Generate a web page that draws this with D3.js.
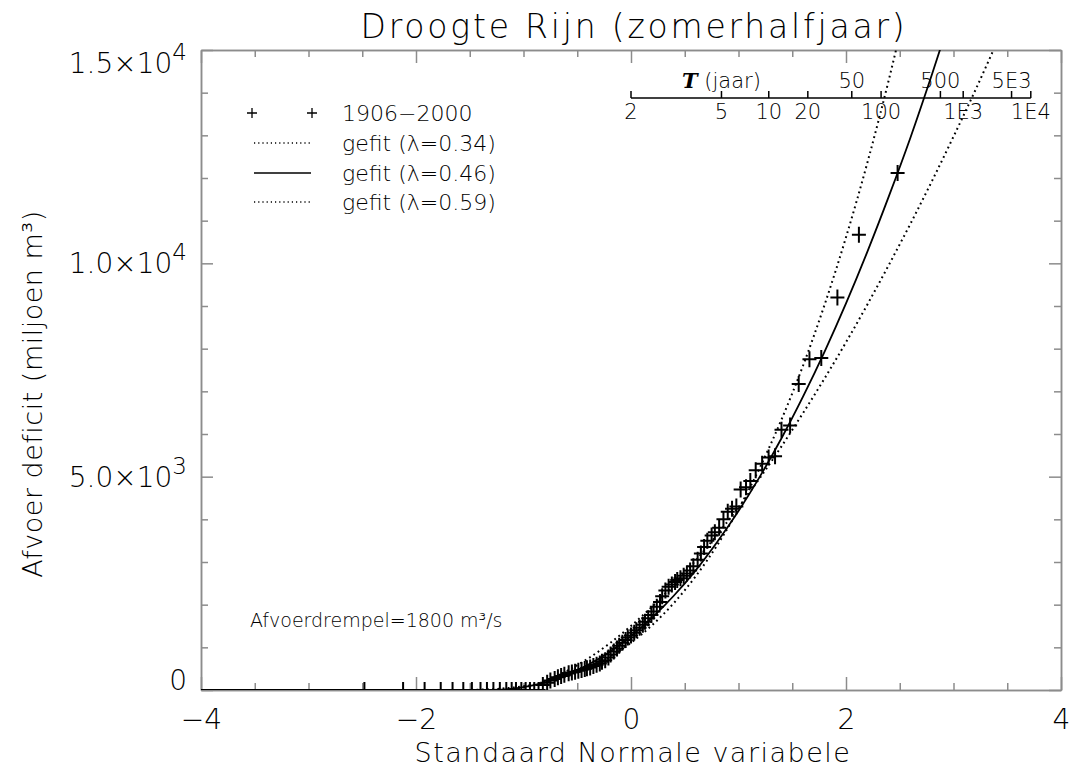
<!DOCTYPE html>
<meta charset="utf-8">
<style>
    body { margin: 0; background: #fff; }
    svg { font-family: "DejaVu Sans", sans-serif; font-weight: 200; }
    .frame line, .frame path { stroke: #8c8c8c; stroke-width: 1.5; }
    .tick text { fill: #000; }
</style>
<body>
<script src="https://d3js.org/d3.v7.min.js"></script>
<script>
    var width = 1072,
        height = 774;

    // observed deficits 1906-2000, sorted, with their standard normal plotting position
    var obsZ = [-2.48,-2.12,-1.92,-1.77,-1.66,-1.56,-1.48,-1.40,-1.34,-1.28,-1.22,-1.16,-1.11,-1.07,-1.02,-0.98,
        -0.94,-0.90,-0.86,-0.82,-0.78,-0.75,-0.71,-0.68,-0.65,-0.62,-0.58,-0.55,-0.52,-0.49,-0.46,-0.43,
        -0.41,-0.38,-0.35,-0.32,-0.29,-0.27,-0.24,-0.21,-0.19,-0.16,-0.13,-0.11,-0.08,-0.05,-0.03,0,
        0.03,0.05,0.08,0.11,0.13,0.16,0.19,0.21,0.24,0.27,0.29,0.32,0.35,0.38,0.41,0.43,0.46,0.49,
        0.52,0.55,0.58,0.62,0.65,0.68,0.71,0.75,0.78,0.82,0.86,0.90,0.94,0.98,1.02,1.07,1.11,1.16,
        1.22,1.28,1.34,1.40,1.48,1.56,1.66,1.77,1.92,2.12,2.48];
    var obsDeficit = [0,0,0,0,0,0,0,0,0,0,0,0,0,0,0,0,0,0,0,
        120,170,220,260,300,330,360,390,410,430,450,470,490,510,530,560,590,620,660,700,760,830,900,
        970,1040,1110,1170,1230,1280,1340,1400,1460,1530,1600,1680,1760,1840,1950,2060,2200,2330,2420,
        2470,2530,2580,2620,2680,2730,2800,2900,3050,3200,3350,3500,3620,3700,3800,4000,4180,4250,4300,
        4700,4750,4900,5150,5300,5450,5480,6100,6200,7170,7750,7780,9200,10670,12120];

    var fitZ = [-4,-1.8,-1.6,-1.4,-1.2,-1.0,-0.8,-0.6,-0.4,-0.2,0,0.2,0.4,0.6,0.8,1.0,1.2,1.4,1.6,1.8,
        2.0,2.2,2.4,2.6,2.8,3.0,3.2,3.4];
    var fit034 = [0,0,1,8,34,87,178,316,510,771,1108,1528,2042,2660,3387,4238,5220,6340,7600,9023,
        10610,12370,14320,16470,18800,21400,24200,27200];
    var fit046 = [0,0,0,0,11,69,181,354,591,892,1263,1703,2215,2798,3463,4195,5007,5900,6875,7925,
        9060,10280,11580,12950,14430,15980,17600,19300];
    var fit059 = [0,0,0,0,0,56,211,441,736,1091,1502,1963,2472,3030,3636,4283,4972,5710,6490,7300,
        8150,9040,9970,10930,11930,12970,14040,15160];

    var xTicks = [-4, -2, 0, 2, 4];
    var yTicks = [0, 5000, 10000, 15000];
    var yTickMant = ["0", "5.0\u00d710", "1.0\u00d710", "1.5\u00d710"];
    var yTickExp = ["", "3", "4", "4"];

    // return period axis (jaar)
    var tBelow = [2, 5, 10, 20, 100, 1000, 10000];
    var tBelowLabels = ["2", "5", "10", "20", "100", "1E3", "1E4"];
    var tAbove = [50, 500, 5000];
    var tAboveLabels = ["50", "500", "5E3"];

    var legendLabels = ["1906\u22122000", "gefit (\u03bb=0.34)", "gefit (\u03bb=0.46)", "gefit (\u03bb=0.59)"];

    // inverse standard normal (Acklam)
    function qnorm(p) {
        var a = [-39.69683028665376, 220.9460984245205, -275.9285104469687, 138.3577518672690, -30.66479806614716, 2.506628277459239],
            b = [-54.47609879822406, 161.5858368580409, -155.6989798598866, 66.80131188771972, -13.28068155288572],
            c = [-0.007784894002430293, -0.3223964580411365, -2.400758277161838, -2.549732539343734, 4.374664141464968, 2.938163982698783],
            d = [0.007784695709041462, 0.3224671290700398, 2.445134137142996, 3.754408661907416];
        var q, r;
        if (p < 0.02425) {
            q = Math.sqrt(-2 * Math.log(p));
            return (((((c[0]*q+c[1])*q+c[2])*q+c[3])*q+c[4])*q+c[5]) / ((((d[0]*q+d[1])*q+d[2])*q+d[3])*q+1);
        }
        if (p <= 1 - 0.02425) {
            q = p - 0.5; r = q * q;
            return (((((a[0]*r+a[1])*r+a[2])*r+a[3])*r+a[4])*r+a[5])*q / (((((b[0]*r+b[1])*r+b[2])*r+b[3])*r+b[4])*r+1);
        }
        q = Math.sqrt(-2 * Math.log(1 - p));
        return -(((((c[0]*q+c[1])*q+c[2])*q+c[3])*q+c[4])*q+c[5]) / ((((d[0]*q+d[1])*q+d[2])*q+d[3])*q+1);
    }

    var svg = d3.select('body').append('svg')
        .attr('width', width)
        .attr('height', height);

    var x = d3.scaleLinear().domain([-4, 4]).range([201, 1061]);
    var y = d3.scaleLinear().domain([0, 15000]).range([690, 50]);

    var minorX = d3.range(-4, 4.01, 0.5).filter(function (v) { return xTicks.indexOf(v) < 0; });
    var minorY = d3.range(0, 15001, 1000).filter(function (v) { return yTicks.indexOf(v) < 0; });

    var fmtX = function (d) { return d < 0 ? "\u2212" + (-d) : d; };

    // frame with mirrored ticks
    function frameAxis(axis, tf) {
        svg.append('g').attr('class', 'frame').attr('transform', tf).call(axis)
            .call(function (g) { g.selectAll('text').remove(); });
    }
    frameAxis(d3.axisBottom(x).tickValues(minorX).tickSize(-7).tickSizeOuter(0), 'translate(0,690)');
    frameAxis(d3.axisTop(x).tickValues(minorX).tickSize(-7).tickSizeOuter(0), 'translate(0,50)');
    frameAxis(d3.axisTop(x).tickValues(xTicks).tickSize(-13).tickSizeOuter(0), 'translate(0,50)');
    frameAxis(d3.axisLeft(y).tickValues(minorY).tickSize(-7).tickSizeOuter(0), 'translate(201,0)');
    frameAxis(d3.axisRight(y).tickValues(minorY).tickSize(-7).tickSizeOuter(0), 'translate(1061,0)');
    frameAxis(d3.axisRight(y).tickValues(yTicks).tickSize(-12).tickSizeOuter(0), 'translate(1061,0)');
    frameAxis(d3.axisLeft(y).tickValues(yTicks).tickSize(-12).tickSizeOuter(0), 'translate(201,0)');

    var xAxisG = svg.append('g').attr('class', 'frame').attr('transform', 'translate(0,690)')
        .call(d3.axisBottom(x).tickValues(xTicks).tickSize(-13).tickSizeOuter(0).tickPadding(19).tickFormat(fmtX));
    xAxisG.selectAll('text').attr('font-size', 28).attr('font-family', '"DejaVu Sans", sans-serif')
        .attr('font-weight', 200);

    // y labels with superscript exponents
    yTicks.forEach(function (v, i) {
        var yy = Math.max(63, Math.min(680, y(v)));
        var t = svg.append('text')
            .attr('x', 187).attr('y', yy + 10)
            .attr('text-anchor', 'end')
            .attr('font-size', 28).attr('fill', '#000')
            .text(yTickMant[i]);
        if (yTickExp[i]) {
            t.append('tspan').attr('dy', -13).attr('font-size', 23).text(yTickExp[i]);
        }
    });

    // titles
    svg.append('text').attr('x', 634).attr('y', 38).attr('text-anchor', 'middle')
        .attr('font-size', 33).attr('letter-spacing', 2.8).attr('fill', '#000')
        .text('Droogte Rijn (zomerhalfjaar)');
    svg.append('text').attr('x', 633).attr('y', 762).attr('text-anchor', 'middle')
        .attr('font-size', 27).attr('letter-spacing', 1.5).attr('fill', '#000')
        .text('Standaard Normale variabele');
    svg.append('text').attr('transform', 'translate(42,394) rotate(-90)').attr('text-anchor', 'middle')
        .attr('font-size', 27).attr('letter-spacing', 0.5).attr('fill', '#000')
        .text('Afvoer deficit (miljoen m\u00b3)');
    svg.append('text').attr('x', 250).attr('y', 627)
        .attr('font-size', 19).attr('fill', '#000')
        .text('Afvoerdrempel=1800 m\u00b3/s');

    // clip for plot area
    svg.append('clipPath').attr('id', 'plot')
        .append('rect').attr('x', 201).attr('y', 50).attr('width', 860).attr('height', 640);

    var line = d3.line()
        .x(function (d) { return x(d[0]); })
        .y(function (d) { return y(d[1]); })
        .curve(d3.curveMonotoneX);

    var plot = svg.append('g').attr('clip-path', 'url(#plot)');

    [[fit034, '1.8,3.4'], [fit059, '1.8,3.4'], [fit046, null]].forEach(function (f) {
        plot.append('path')
            .datum(d3.zip(fitZ, f[0]))
            .attr('d', line)
            .attr('fill', 'none')
            .attr('stroke', '#000')
            .attr('stroke-width', f[1] ? 2 : 1.8)
            .attr('stroke-dasharray', f[1]);
    });

    plot.selectAll('.obs')
        .data(d3.zip(obsZ, obsDeficit))
        .enter().append('path')
        .attr('class', 'obs')
        .attr('d', function (d) {
            var px = x(d[0]), py = y(d[1]);
            return 'M' + (px - 7) + ',' + py + 'H' + (px + 7) + 'M' + px + ',' + (py - 8) + 'V' + (py + 8);
        })
        .attr('stroke', '#000')
        .attr('stroke-width', 2);

    // return period axis
    var tz = function (T) { return x(qnorm(1 - 1 / T)); };
    var tAxis = svg.append('g');
    tAxis.append('line').attr('x1', tz(2)).attr('x2', tz(10000)).attr('y1', 98).attr('y2', 98)
        .attr('stroke', '#000').attr('stroke-width', 1.5);
    tBelow.concat(tAbove).forEach(function (T) {
        tAxis.append('line').attr('x1', tz(T)).attr('x2', tz(T)).attr('y1', 98).attr('y2', 91)
            .attr('stroke', '#000').attr('stroke-width', 1.5);
    });
    tBelow.forEach(function (T, i) {
        tAxis.append('text').attr('x', tz(T)).attr('y', 119).attr('text-anchor', 'middle')
            .attr('font-size', 21).attr('fill', '#000').text(tBelowLabels[i]);
    });
    tAbove.forEach(function (T, i) {
        tAxis.append('text').attr('x', tz(T)).attr('y', 88).attr('text-anchor', 'middle')
            .attr('font-size', 21).attr('fill', '#000').text(tAboveLabels[i]);
    });
    var tl = tAxis.append('text').attr('x', 682).attr('y', 88).attr('font-size', 21).attr('fill', '#000');
    tl.append('tspan').attr('font-family', '"DejaVu Serif", serif').attr('font-style', 'italic')
        .attr('font-weight', 'bold').text('T');
    tl.append('tspan').text(' (jaar)');

    // legend
    var leg = svg.append('g');
    var rowY = [113, 143, 173, 202];
    [252, 312].forEach(function (px) {
        leg.append('path').attr('d', 'M' + (px - 5) + ',' + rowY[0] + 'H' + (px + 5) + 'M' + px + ',' + (rowY[0] - 5) + 'V' + (rowY[0] + 5))
            .attr('stroke', '#000').attr('stroke-width', 1.3);
    });
    [[1, '1.2,3'], [2, null], [3, '1.2,3']].forEach(function (r) {
        leg.append('line').attr('x1', 254).attr('x2', 311).attr('y1', rowY[r[0]]).attr('y2', rowY[r[0]])
            .attr('stroke', '#000').attr('stroke-width', r[1] ? 1.3 : 1.6).attr('stroke-dasharray', r[1]);
    });
    legendLabels.forEach(function (s, i) {
        leg.append('text').attr('x', 342).attr('y', rowY[i] + 8)
            .attr('font-size', 22).attr('fill', '#000').text(s);
    });
</script>
</body>
